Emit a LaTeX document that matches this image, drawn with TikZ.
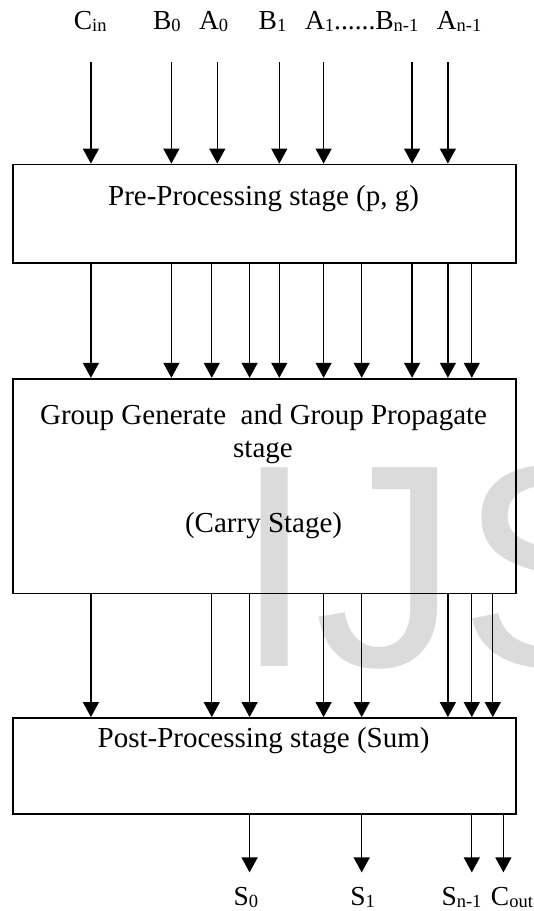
\documentclass[tikz,border=0pt]{standalone}
\usepackage{fontspec}
\setmainfont{Liberation Serif}
\newfontfamily\wmfont{Liberation Sans}
\usetikzlibrary{arrows.meta}
\definecolor{wmgray}{RGB}{219,219,219}
\newcommand{\mysb}[1]{\raisebox{-2.5pt}{\fontsize{18.5}{19}\selectfont #1}}
\tikzset{
  stagebox/.style={draw=black, line width=1.8pt, minimum width=503pt, inner sep=0pt},
  arr/.style={line width=1.3pt, -{Triangle[width=16pt,length=15pt]}},
  lbl/.style={anchor=base, inner sep=0pt, font=\fontsize{27.5}{32}\selectfont},
  txt/.style={anchor=base, inner sep=0pt, font=\fontsize{29}{33}\selectfont},
}
\begin{document}
\begin{tikzpicture}[x=1pt,y=-1pt]
\useasboundingbox (0,0) rectangle (534,911);
% watermark
\begin{scope}
\clip (0,0) rectangle (534,911);
\node[anchor=base west, inner sep=0pt, text=wmgray, font=\wmfont\fontsize{289}{300}\selectfont] (wm) at (234,666.7) {IJS};
\end{scope}
% boxes
\node[stagebox, minimum height=98.7pt] (pre) at (264.5,213.85) {};
\node[stagebox, minimum height=214.8pt] (gg) at (264.5,486.1) {};
\node[stagebox, minimum height=95.8pt] (post) at (264.5,765.9) {};
% box texts
\node[txt] (pretxt) at (263.6,205.2) {Pre-Processing stage (p, g)};
\node[txt] (gg1) at (263.6,424.7) {Group Generate\ \ and Group Propagate};
\node[txt] (gg2) at (263,457) {stage};
\node[txt] (gg3) at (263.6,532) {(Carry Stage)};
\node[txt] (posttxt) at (263.6,747.7) {Post-Processing stage (Sum)};
% top labels
\node[lbl] (cin) at (90.2,29.3) {C\mysb{in}};
\node[lbl] (b0) at (166.9,29.3) {B\mysb{0}};
\node[lbl] (a0) at (213.6,29.3) {A\mysb{0}};
\node[lbl] (b1) at (272.5,29.3) {B\mysb{1}};
\node[lbl] (a1bn) at (361.7,29.3) {A\mysb{1}......B\mysb{n-1}};
\node[lbl] (an) at (459.1,29.3) {A\mysb{n-1}};
% top arrows
\foreach \x in {90.9,171.4,217.3,279.3,323.6,412.1,447.9}
  \draw[arr] (\x,62.3) -- (pre.north -| \x,0);
% pre -> gg
\foreach \x in {90.9,171.4,211.8,249.6,279.3,323.6,361.7,412.1,447.9,471.8}
  \draw[arr] (pre.south -| \x,0) -- (gg.north -| \x,0);
% gg -> post
\foreach \x in {90.9,211.8,249.6,323.6,361.7,447.9,471.8,492.8}
  \draw[arr] (gg.south -| \x,0) -- (post.north -| \x,0);
% outputs
\coordinate (o0) at (249.6,872.4);
\coordinate (o1) at (361.7,872.4);
\coordinate (o2) at (471.8,872.4);
\coordinate (o3) at (503.4,872.4);
\foreach \c in {o0,o1,o2,o3}
  \draw[arr] (post.south -| \c) -- (\c);
% bottom labels
\node[lbl] (s0) at (245.8,905) {S\mysb{0}};
\node[lbl] (s1) at (362.7,905) {S\mysb{1}};
\node[lbl] (sn) at (461.5,905) {S\mysb{n-1}};
\node[lbl] (cout) at (511.9,905) {C\mysb{out}};
\end{tikzpicture}
\end{document}
